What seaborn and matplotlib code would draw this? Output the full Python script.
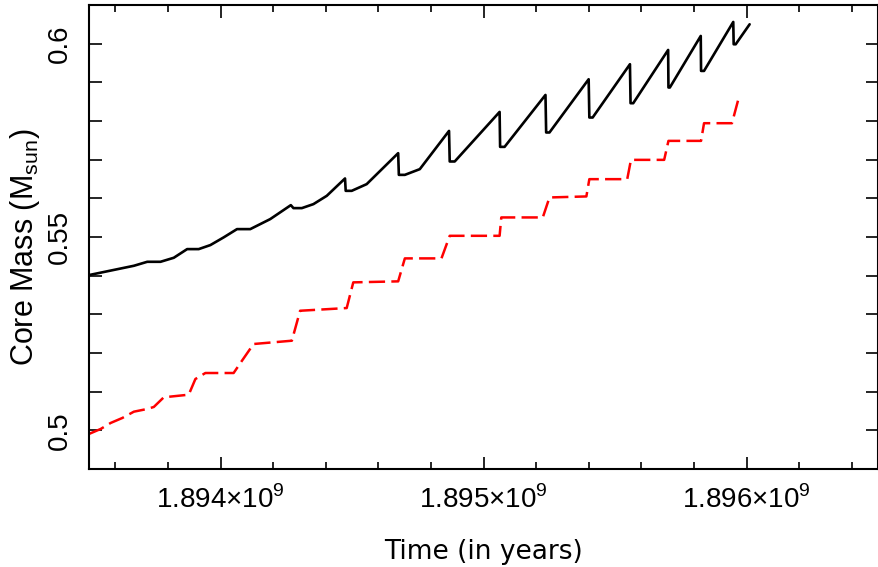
import numpy as np
import pandas as pd
import matplotlib
matplotlib.use("Agg")
import matplotlib.pyplot as plt
import seaborn as sns
from matplotlib.ticker import MultipleLocator, FuncFormatter

# hydrogen-exhausted core (black) vs. helium-exhausted core (red); time in Myr
t_h = [1893.500, 1893.6705, 1893.7213, 1893.7717, 1893.8222, 1893.8730, 1893.9170,
       1893.9613, 1894.0118, 1894.0626, 1894.1130, 1894.1889, 1894.2673, 1894.2772,
       1894.3091, 1894.3531, 1894.4039, 1894.4733, 1894.4759, 1894.4987, 1894.5556,
       1894.6754, 1894.6780, 1894.7008, 1894.7577, 1894.8688, 1894.8714, 1894.8904,
       1895.0611, 1895.0630, 1895.0800, 1895.2355, 1895.2381, 1895.2507, 1895.3997,
       1895.4023, 1895.4149, 1895.5567, 1895.5590, 1895.5692, 1895.7019, 1895.7031,
       1895.7084, 1895.8259, 1895.8271, 1895.8384, 1895.9495, 1895.9511, 1895.9587,
       1896.0118]
m_h = [0.54016, 0.54256, 0.54359, 0.54359, 0.54463, 0.54687, 0.54687,
       0.54791, 0.54990, 0.55204, 0.55204, 0.55463, 0.55824, 0.55747,
       0.55747, 0.55850, 0.56065, 0.56514, 0.56194, 0.56194, 0.56367,
       0.57168, 0.56607, 0.56607, 0.56755, 0.57744, 0.56953, 0.56953,
       0.58235, 0.57331, 0.57331, 0.58674, 0.57703, 0.57703, 0.59080,
       0.58090, 0.58090, 0.59468, 0.58460, 0.58460, 0.59837, 0.58866,
       0.58866, 0.60199, 0.59295, 0.59295, 0.60561, 0.59984, 0.59984,
       0.60501]

t_he = [1893.500, 1893.5442, 1893.5821, 1893.6265, 1893.6705, 1893.7213, 1893.7463,
        1893.7842, 1893.8790, 1893.9044, 1893.9424, 1894.0497, 1894.0815, 1894.1255,
        1894.2711, 1894.3026, 1894.4797, 1894.5047, 1894.6754, 1894.7008, 1894.8400,
        1894.8714, 1895.0611, 1895.0675, 1895.2253, 1895.2507, 1895.3910, 1895.4023,
        1895.5464, 1895.5605, 1895.6868, 1895.7031, 1895.8271, 1895.8384, 1895.9446,
        1895.9723]
m_he = [0.49907, 0.50036, 0.50191, 0.50320, 0.50483, 0.50553, 0.50605,
        0.50855, 0.50922, 0.51328, 0.51483, 0.51483, 0.51801, 0.52233,
        0.52318, 0.53093, 0.53163, 0.53827, 0.53853, 0.54447, 0.54447,
        0.55031, 0.55031, 0.55506, 0.55506, 0.56023, 0.56049, 0.56496,
        0.56496, 0.56995, 0.56995, 0.57486, 0.57486, 0.57943, 0.57943,
        0.58649]

df_h = pd.DataFrame({"time": np.array(t_h) * 1e6, "mass": m_h})
df_he = pd.DataFrame({"time": np.array(t_he) * 1e6, "mass": m_he})

sns.set_theme(style="ticks")
plt.rcParams["font.family"] = ["Liberation Sans", "DejaVu Sans"]
plt.rcParams["axes.linewidth"] = 1.5
plt.rcParams["text.color"] = "black"
plt.rcParams["axes.labelcolor"] = "black"
plt.rcParams["xtick.color"] = "black"
plt.rcParams["ytick.color"] = "black"
plt.rcParams["axes.edgecolor"] = "black"

fig = plt.figure(figsize=(8.79, 5.67), dpi=100)
ax = fig.add_axes([0.1013, 0.1728, 0.8976, 0.8184])

sns.lineplot(data=df_h, x="time", y="mass", ax=ax, color="black", lw=1.9,
             sort=False, estimator=None)
sns.lineplot(data=df_he, x="time", y="mass", ax=ax, color="red", lw=1.8,
             sort=False, estimator=None, linestyle=(0, (6.5, 2.5)))

ax.set_xlim(1.8935e9, 1.8965e9)
ax.set_ylim(0.49, 0.61)

ax.xaxis.set_major_locator(MultipleLocator(1e6))
ax.xaxis.set_minor_locator(MultipleLocator(2e5))
ax.yaxis.set_major_locator(MultipleLocator(0.05))
ax.yaxis.set_minor_locator(MultipleLocator(0.01))
ax.xaxis.set_major_formatter(FuncFormatter(
    lambda v, p: "%.3f\u00d710$^{\\mathregular{9}}$" % (v / 1e9)))
ax.yaxis.set_major_formatter(FuncFormatter(lambda v, p: "%g" % round(v, 2)))

ax.tick_params(which="both", direction="in", top=True, right=True, width=1.2,
               color="black")
ax.tick_params(axis="x", which="major", length=9, pad=12, labelsize=20)
ax.tick_params(axis="x", which="minor", length=5)
ax.tick_params(axis="y", which="both", length=9)
ax.tick_params(axis="y", which="major", pad=12, labelsize=20, labelrotation=90)
for lab in ax.get_yticklabels():
    lab.set_va("center")

ax.set_xlabel("Time (in years)", fontsize=19, family="DejaVu Sans", labelpad=18)
ax.set_ylabel("Core Mass (M$_{\\mathregular{sun}}$)", fontsize=22)
ax.yaxis.set_label_coords(-0.0596, 0.478)

fig.savefig("out.png", dpi=100)
